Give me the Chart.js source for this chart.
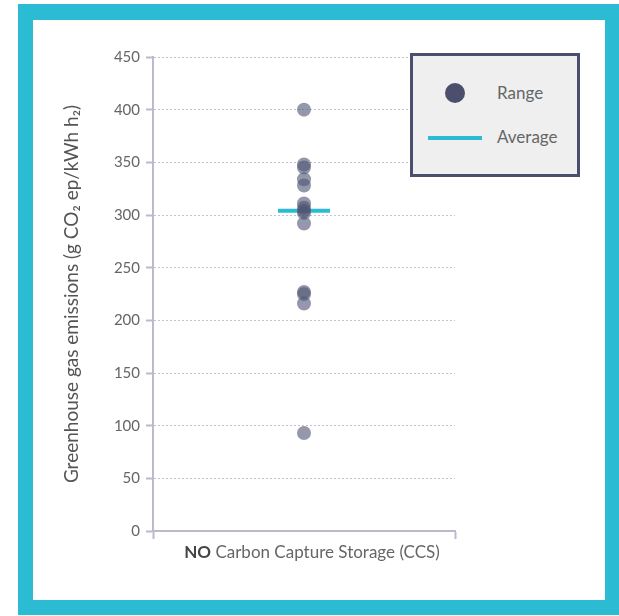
<!DOCTYPE html>
<html>
<head>
<meta charset="utf-8">
<script src="https://cdn.jsdelivr.net/npm/chart.js@4.4.1/dist/chart.umd.min.js"></script>
<style>
  html, body { margin: 0; padding: 0; background: #ffffff; }
  #wrap { position: relative; width: 619px; height: 616px; overflow: hidden; background: #ffffff; }
  #frame { position: absolute; left: 18px; top: 4px; width: 601px; height: 611px; background: #2bbcd3; }
  #inner { position: absolute; left: 33px; top: 20px; width: 572px; height: 580px; background: #ffffff; }
  #c { position: absolute; left: 0; top: 0; }
  #legend { position: absolute; left: 410px; top: 53px; width: 164px; height: 118px; border: 3px solid #4b4e6c;
            background: #efefef; font-family: Lato, "Open Sans", sans-serif; font-size: 17px; color: #666; }
  .dot { position: absolute; width: 20px; height: 20px; border-radius: 50%; background: #4b4f6d; }
  .ln { position: absolute; height: 4px; background: #2bbcd3; }
  .lt { position: absolute; line-height: 20px; }
</style>
</head>
<body>
<div id="wrap">
  <div id="frame"></div>
  <div id="inner"></div>
  <canvas id="c" width="619" height="616"></canvas>
  <div id="legend">
    <div class="dot" style="left:32px; top:27px;"></div>
    <div class="lt" id="lg0" style="left:84px; top:27px;"></div>
    <div class="ln" style="left:15px; top:80px; width:54px;"></div>
    <div class="lt" id="lg1" style="left:84px; top:71px;"></div>
  </div>
</div>
<script>
// ---- data ----
const categories = ['NO Carbon Capture Storage (CCS)'];
const rangeValues = [400, 348, 345, 334, 328, 311, 307, 304, 302, 292, 227, 225, 216, 93];
const averageValues = [304];
const seriesNames = ['Range', 'Average'];
const yTicks = [0, 50, 100, 150, 200, 250, 300, 350, 400, 450];
const yTitle = 'Greenhouse gas emissions (g CO\u2082 ep/kWh h\u2082)';

document.getElementById('lg0').textContent = seriesNames[0];
document.getElementById('lg1').textContent = seriesNames[1];

const axisColor = '#b9bbcc';
const FONT = 'Lato, "Open Sans", sans-serif';

const xLabelPlugin = {
  id: 'xLabel',
  afterDraw(chart) {
    const xs = chart.scales.x;
    const ctx = chart.ctx;
    const label = chart.data.labels[0];
    const sp = label.indexOf(' ');
    const boldPart = label.slice(0, sp);
    const restPart = label.slice(sp);
    const cx = xs.getPixelForValue(0) + 8;
    const y = xs.top + 22;
    ctx.save();
    ctx.textBaseline = 'middle';
    ctx.font = 'bold 17px ' + FONT;
    const w1 = ctx.measureText(boldPart).width;
    ctx.font = '17px ' + FONT;
    const w2 = ctx.measureText(restPart).width;
    const x = cx - (w1 + w2) / 2;
    ctx.textAlign = 'left';
    ctx.fillStyle = '#444';
    ctx.font = 'bold 17px ' + FONT;
    ctx.fillText(boldPart, x, y);
    ctx.fillStyle = '#666';
    ctx.font = '17px ' + FONT;
    ctx.fillText(restPart, x + w1, y);
    ctx.restore();
  }
};

new Chart(document.getElementById('c'), {
  type: 'scatter',
  data: {
    labels: categories,
    datasets: [
      {
        label: seriesNames[0],
        data: rangeValues.map(v => ({ x: categories[0], y: v })),
        backgroundColor: 'rgba(78, 83, 115, 0.6)',
        borderWidth: 0,
        pointRadius: 7,
        pointHoverRadius: 7,
        order: 0
      },
      {
        label: seriesNames[1],
        data: averageValues.map(v => ({ x: categories[0], y: v })),
        pointStyle: 'line',
        borderColor: '#2bbcd3',
        backgroundColor: '#2bbcd3',
        borderWidth: 4,
        pointRadius: 26,
        pointHoverRadius: 26,
        order: 1
      }
    ]
  },
  options: {
    responsive: false,
    animation: false,
    events: [],
    layout: { padding: { left: 50, right: 164, top: 57, bottom: 0 } },
    plugins: { legend: { display: false }, tooltip: { enabled: false } },
    scales: {
      x: {
        type: 'category',
        labels: categories,
        offset: true,
        afterFit: s => { s.height = 85; },
        grid: { display: true, offset: true, drawOnChartArea: false, drawTicks: true, tickLength: 8, tickColor: axisColor, tickWidth: 2 },
        border: { display: true, color: axisColor, width: 2 },
        ticks: { display: false }
      },
      y: {
        min: 0, max: 450,
        afterFit: s => { s.width = 103; },
        afterBuildTicks: s => { s.ticks = yTicks.map(v => ({ value: v })); },
        grid: { color: '#c4c4cc', lineWidth: 1, drawTicks: true, tickLength: 7, tickColor: axisColor, tickWidth: 2, tickBorderDash: [] },
        border: { display: true, color: axisColor, width: 2, dash: [2, 2] },
        ticks: { color: '#666', font: { family: FONT, size: 15 }, padding: 6 },
        title: { display: true, text: yTitle, color: '#555', font: { family: FONT, size: 19 }, padding: { top: 10, bottom: 0 } }
      }
    }
  },
  plugins: [xLabelPlugin]
});
</script>
</body>
</html>
